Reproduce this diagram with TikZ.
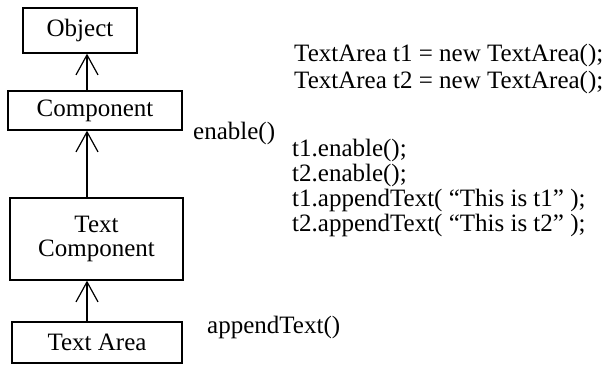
\documentclass[tikz,border=0pt]{standalone}
\usepackage{fontspec}
\setmainfont{Liberation Serif}
\usetikzlibrary{arrows.meta, positioning}

\tikzset{
  classbox/.style={draw, line width=1.3pt, inner sep=0pt, align=center},
  inherit/.style={line width=1.2pt, -{Straight Barb[length=20pt, width=22pt]}},
  code/.style={anchor=base west, inner sep=0pt}
}

\begin{document}
\begin{tikzpicture}[x=1pt, y=-1pt, every node/.style={font=\fontsize{25}{24}\selectfont}]
    \useasboundingbox (0,0) rectangle (613,365);

    % Class boxes
    \node[classbox, minimum width=114pt, minimum height=45pt] (obj) at (80,30.5) {Object};
    \node[classbox, minimum width=174pt, minimum height=39pt] (comp) at (95,110.5) {Component};
    \node[classbox, minimum width=173pt, minimum height=82pt] (tcomp) at (96.5,239) {Text\\Component};
    \node[classbox, minimum width=170pt, minimum height=41pt] (tarea) at (97,342.5) {Text Area};

    % Inheritance arrows
    \coordinate (ax) at (87,0);
    \draw[inherit] (ax |- comp.north) -- (ax |- obj.south);
    \draw[inherit] (ax |- tcomp.north) -- (ax |- comp.south);
    \draw[inherit] (ax |- tarea.north) -- (ax |- tcomp.south);

    % Methods
    \node[code] (enable) at (193,139) {enable()};
    \node[code] (append) at (207,333) {appendText()};

    % Code
    \node[code] (decl1) at (294,61) {TextArea t1 = new TextArea();};
    \node[code] (decl2) at (294,88) {TextArea t2 = new TextArea();};
    \node[code] (call1) at (292,156) {t1.enable();};
    \node[code] (call2) at (292,181) {t2.enable();};
    \node[code] (call3) at (292,206) {t1.appendText( “This is t1” );};
    \node[code] (call4) at (292,231) {t2.appendText( “This is t2” );};

\end{tikzpicture}
\end{document}
